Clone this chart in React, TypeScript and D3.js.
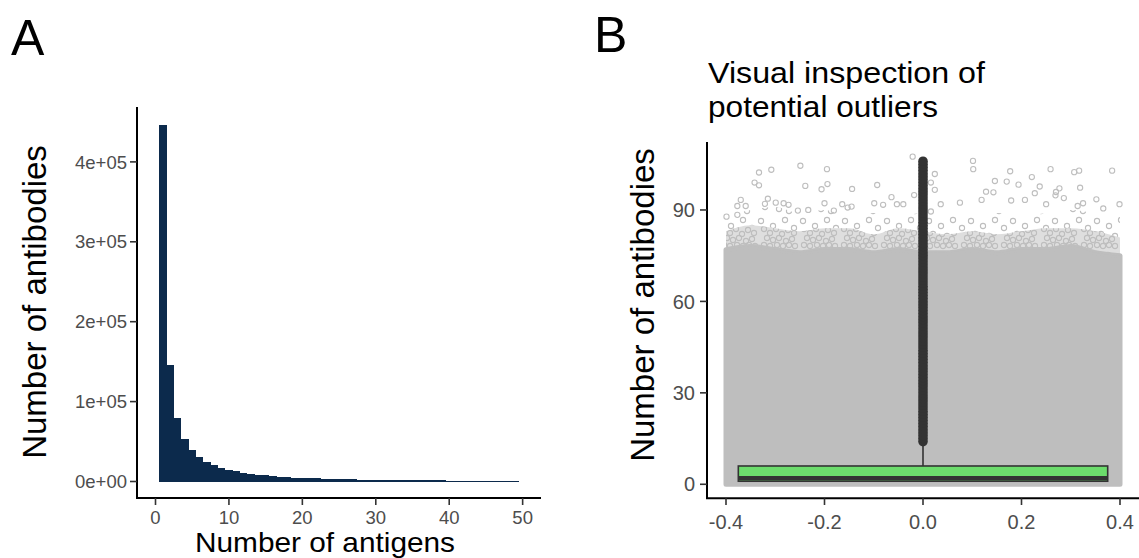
import React from "react";
import * as d3 from "d3";

// ---------- Panel A: histogram of antigens per antibody ----------
const antigenBins = [
  1, 2, 3, 4, 5, 6, 7, 8, 9, 10, 11, 12, 13, 14, 15, 16, 17, 18, 19, 20, 21, 22, 23, 24, 25,
  26, 27, 28, 29, 30, 31, 32, 33, 34, 35, 36, 37, 38, 39, 40, 41, 42, 43, 44, 45, 46, 47, 48, 49,
];
const antibodyCounts = [
  446000, 146000, 79500, 53500, 39000, 30500, 24800, 20500, 16800, 14700, 12600, 10900, 9700,
  8500, 7600, 6800, 6200, 5500, 5000, 4600, 4200, 3900, 3600, 3300, 3000, 2800, 2600, 2450,
  2300, 2150, 2000, 1900, 1800, 1700, 1600, 1500, 1420, 1350, 1280, 1220, 1160, 1100, 1050,
  1000, 960, 920, 880, 840, 350,
];
const aYTicks = [0, 100000, 200000, 300000, 400000];
const aYTickLabels = ["0e+00", "1e+05", "2e+05", "3e+05", "4e+05"];
const aXTicks = [0, 10, 20, 30, 40, 50];

// ---------- Panel B: jittered counts with a boxplot ----------
const boxStats = { q1: 1, median: 2, q3: 6, whiskerHigh: 13 };
const boxOutliers = [
  14, 15, 16, 17, 18, 19, 20, 21, 22, 23, 24, 25, 26, 27, 28, 29, 30, 31, 32, 33, 34, 35, 36,
  37, 38, 39, 40, 41, 42, 43, 44, 45, 46, 47, 48, 49, 50, 51, 52, 53, 54, 55, 56, 57, 58, 59,
  60, 61, 62, 63, 64, 65, 66, 67, 68, 69, 70, 71, 72, 73, 74, 75, 76, 77, 78, 79, 80, 81, 82,
  83, 84, 85, 86, 87, 88, 89, 90, 91, 92, 93, 94, 95, 96, 97, 98, 99, 100, 101, 102, 103,
  104, 105, 106,
];
// upper edges of the solid point cloud, its dense fringe and its thin fringe
const cloudX = [
  -0.4, -0.35, -0.3, -0.25, -0.2, -0.15, -0.1, -0.05, 0, 0.05, 0.1, 0.15, 0.2, 0.25, 0.3, 0.35, 0.4,
];
const cloudCoreTop = [77, 78, 77, 76, 77, 77, 76, 77, 76, 76, 77, 76, 77, 77, 78, 76, 75];
const cloudDenseTop = [83, 85, 84, 83, 84, 84, 82, 84, 83, 82, 83, 82, 83, 84, 84, 83, 81];
const cloudFringeTop = [88, 90, 91, 89, 90, 88, 89, 88, 89, 88, 88, 89, 88, 89, 90, 89, 88];
// sparse high-count points above the cloud
const sparsePoints: [number, number][] = [
  [-0.333, 102.3], [-0.308, 103.2], [-0.249, 104.5], [-0.195, 103.4], [-0.342, 99], [-0.333, 98.1],
  [-0.239, 97.9], [-0.206, 96.8], [-0.194, 98.5], [-0.144, 96.9], [-0.315, 93.7], [-0.37, 93.3],
  [-0.377, 91.3], [-0.36, 91.3], [-0.321, 92], [-0.299, 92.4], [-0.283, 92.2], [-0.273, 91.7],
  [-0.2, 92.2], [-0.164, 91.9], [-0.399, 87.8], [-0.377, 88.4], [-0.254, 89.8], [-0.233, 90],
  [-0.181, 89.8], [-0.153, 90.8],
  [-0.021, 107.5], [0.1015, 106.1], [0.102, 103.4], [0.024, 101.8], [-0.093, 98.2], [0.016, 99],
  [0.024, 96.6], [0.146, 99.5], [0.128, 96], [0.143, 95.8], [0.119, 93.3], [-0.018, 94.9],
  [-0.064, 94.2], [-0.099, 92.2], [-0.081, 91.7], [-0.053, 91.9], [-0.04, 91.9], [0.075, 92.4],
  [0.036, 91.9], [0.016, 89.5], [-0.145, 91.1],
  [0.259, 103.4], [0.307, 102.4], [0.317, 102.9], [0.384, 102.9], [0.177, 102.7], [0.221, 100.8],
  [0.17, 99.3], [0.194, 98.3], [0.237, 97.7], [0.277, 97.1], [0.319, 97.3], [0.227, 95.5],
  [0.27, 95.9], [0.269, 94.8], [0.286, 93.9], [0.179, 93.1], [0.207, 93.3], [0.352, 93.5],
  [0.399, 91.9], [0.25, 91.9], [0.314, 91.3], [0.325, 92.2], [0.366, 90.5],
];
const bYTicks = [0, 30, 60, 90];
const bXTicks = [-0.4, -0.2, 0, 0.2, 0.4];
const bXTickLabels = ["-0.4", "-0.2", "0.0", "0.2", "0.4"];

const FONT = "'Liberation Sans', Arial, Helvetica, sans-serif";
const TICK_GREY = "#4d4d4d";
const POINT_GREY = "#bebebe";

// open-circle texture used for the thinning edge of the cloud
const denseDots: [number, number][] = [
  [4, 4], [10, 8], [16, 4], [22, 9], [28, 5], [34, 8], [7, 13], [13, 15], [19, 13], [26, 16],
  [32, 14], [4, 20], [10, 21], [17, 20], [23, 21], [29, 20], [35, 21],
];
const sparseDots: [number, number][] = [
  [5, 5], [17, 10], [29, 4], [38, 12], [9, 18], [23, 20], [33, 22],
];

export default function App() {
  // scales for panel A
  const xA = d3.scaleLinear().domain([-2.52, 52.5]).range([137, 541]);
  const yA = d3.scaleLinear().domain([-20650, 468700]).range([498, 107]);
  // scales for panel B
  const xB = d3.scaleLinear().domain([-0.44, 0.44]).range([706.3, 1139.7]);
  const yB = d3.scaleLinear().domain([-4.6, 112.3]).range([498.3, 142]);

  const band = (lo: number[] | null, hi: number[]) =>
    d3
      .area<number>()
      .x((_, i) => xB(cloudX[i]))
      .y0((_, i) => yB(lo ? lo[i] : 0))
      .y1((_, i) => yB(hi[i]))
      .curve(d3.curveMonotoneX)(hi) as string;

  const coreArea = band(null, cloudCoreTop);
  const denseArea = band(cloudCoreTop, cloudDenseTop);
  const fringeArea = band(cloudDenseTop, cloudFringeTop);

  const boxLeft = xB(-0.375);
  const boxRight = xB(0.375);

  return (
    <svg
      width={1139}
      height={558}
      style={{ position: "absolute", left: 0, top: 0, background: "#fff" }}
      fontFamily={FONT}
    >
      <defs>
        <pattern id="denseDots" width={40} height={25} patternUnits="userSpaceOnUse">
          {denseDots.map(([cx, cy], i) => (
            <circle key={i} cx={cx} cy={cy} r={2.6} fill="none" stroke={POINT_GREY} strokeWidth={1.1} />
          ))}
        </pattern>
        <pattern id="sparseDots" width={42} height={27} patternUnits="userSpaceOnUse">
          {sparseDots.map(([cx, cy], i) => (
            <circle key={i} cx={cx} cy={cy} r={2.6} fill="none" stroke={POINT_GREY} strokeWidth={1.1} />
          ))}
        </pattern>
      </defs>

      {/* ---------------- Panel A ---------------- */}
      <text x={11} y={55} fontSize={50} fill="#000">A</text>

      <g shapeRendering="crispEdges">
        {antigenBins.map((b, i) => (
          <rect
            key={b}
            x={xA(b - 0.5)}
            width={xA(b + 0.5) - xA(b - 0.5)}
            y={yA(antibodyCounts[i])}
            height={yA(0) - yA(antibodyCounts[i])}
            fill="#0c2a4c"
          />
        ))}
      </g>

      {/* axes A */}
      <line x1={137} x2={137} y1={107} y2={499} stroke="#000" strokeWidth={2} />
      <line x1={136} x2={541} y1={498} y2={498} stroke="#000" strokeWidth={2} />
      {aYTicks.map((t, i) => (
        <g key={t}>
          <line x1={130} x2={137} y1={yA(t)} y2={yA(t)} stroke="#333" strokeWidth={1.6} />
          <text x={127} y={yA(t)} dy="0.36em" textAnchor="end" fontSize={18.5} fill={TICK_GREY}>
            {aYTickLabels[i]}
          </text>
        </g>
      ))}
      {aXTicks.map((t) => (
        <g key={t}>
          <line x1={xA(t)} x2={xA(t)} y1={498} y2={505} stroke="#333" strokeWidth={1.6} />
          <text x={xA(t)} y={524} textAnchor="middle" fontSize={18.5} fill={TICK_GREY}>
            {t}
          </text>
        </g>
      ))}
      <text transform="translate(46,302) rotate(-90)" textAnchor="middle" fontSize={33} fill="#000">
        Number of antibodies
      </text>
      <text x={325} y={551.5} textAnchor="middle" fontSize={28} fill="#000" textLength={260} lengthAdjust="spacingAndGlyphs">
        Number of antigens
      </text>

      {/* ---------------- Panel B ---------------- */}
      <text x={594} y={52} fontSize={50} fill="#000">B</text>
      <text x={708} y={83} fontSize={30} fill="#000" textLength={277} lengthAdjust="spacingAndGlyphs">
        Visual inspection of
      </text>
      <text x={708} y={117} fontSize={30} fill="#000" textLength={230} lengthAdjust="spacingAndGlyphs">
        potential outliers
      </text>

      {/* jittered point cloud */}
      <path d={coreArea} fill={POINT_GREY} stroke={POINT_GREY} strokeWidth={5} strokeLinejoin="round" />
      <path d={denseArea} fill={POINT_GREY} opacity={0.5} />
      <path d={denseArea} fill="url(#denseDots)" />
      <path d={fringeArea} fill="url(#sparseDots)" />
      {sparsePoints.map(([x, y], i) => (
        <circle key={i} cx={xB(x)} cy={yB(y)} r={2.6} fill="none" stroke={POINT_GREY} strokeWidth={1.1} />
      ))}

      {/* boxplot */}
      <line
        x1={xB(0)}
        x2={xB(0)}
        y1={yB(boxStats.q3)}
        y2={yB(boxStats.whiskerHigh)}
        stroke="#333"
        strokeWidth={1.6}
      />
      {boxOutliers.map((v) => (
        <circle key={v} cx={xB(0)} cy={yB(v)} r={4.8} fill="#333" />
      ))}
      <rect
        x={boxLeft}
        y={yB(boxStats.q3)}
        width={boxRight - boxLeft}
        height={yB(boxStats.q1) - yB(boxStats.q3)}
        fill="#6cdc6c"
        stroke="#333"
        strokeWidth={1.6}
      />
      <line
        x1={boxLeft}
        x2={boxRight}
        y1={yB(boxStats.median)}
        y2={yB(boxStats.median)}
        stroke="#333"
        strokeWidth={4.5}
      />

      {/* axes B */}
      <line x1={707} x2={707} y1={142} y2={499} stroke="#000" strokeWidth={2} />
      <line x1={706} x2={1139} y1={498.3} y2={498.3} stroke="#000" strokeWidth={2} />
      {bYTicks.map((t) => (
        <g key={t}>
          <line x1={700} x2={707} y1={yB(t)} y2={yB(t)} stroke="#333" strokeWidth={1.6} />
          <text x={695} y={yB(t)} dy="0.36em" textAnchor="end" fontSize={20} fill={TICK_GREY}>
            {t}
          </text>
        </g>
      ))}
      {bXTicks.map((t, i) => (
        <g key={t}>
          <line x1={xB(t)} x2={xB(t)} y1={498.3} y2={505} stroke="#333" strokeWidth={1.6} />
          <text x={xB(t)} y={529} textAnchor="middle" fontSize={20} fill={TICK_GREY}>
            {bXTickLabels[i]}
          </text>
        </g>
      ))}
      <text transform="translate(654,305) rotate(-90)" textAnchor="middle" fontSize={33} fill="#000">
        Number of antibodies
      </text>
    </svg>
  );
}
